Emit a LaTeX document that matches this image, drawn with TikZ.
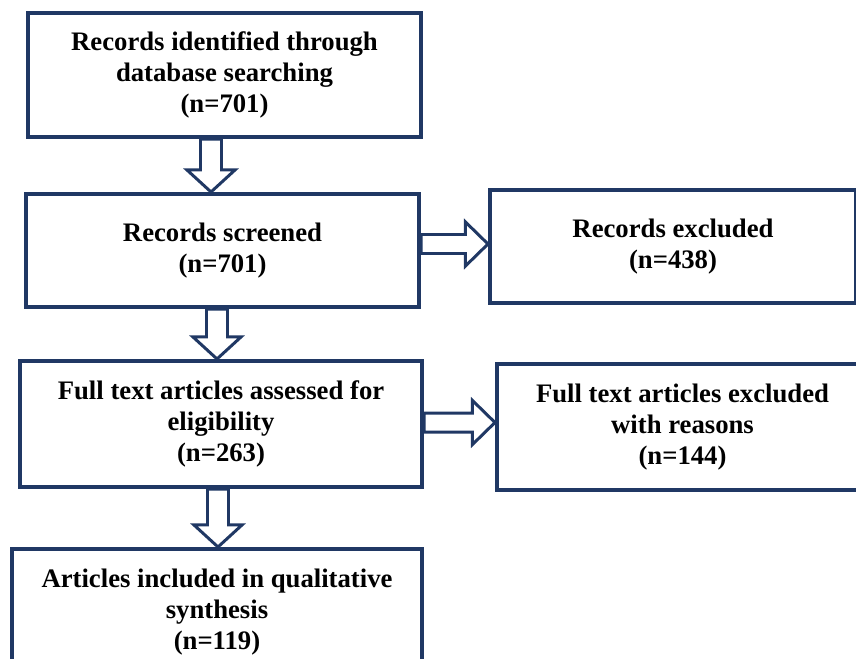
\documentclass[tikz,border=0pt]{standalone}
\usepackage{fontspec}
\setmainfont{Liberation Serif}
\usepackage{tikz}
\usetikzlibrary{positioning}
\usetikzlibrary{calc}
\definecolor{navy}{HTML}{203864}
\colorlet{boxborder}{navy}
\colorlet{boxfill}{white}
\newcommand{\flowfont}{\fontsize{15.2}{17.5}\selectfont\bfseries}
\tikzstyle{flowbox}=[black, align=center, solid, draw=boxborder, line width=2.3pt, fill=boxfill, inner sep=0pt, font=\flowfont]
\tikzstyle{downblock}=[draw=boxborder, line width=1.7pt, fill=boxfill, line join=miter,
    to path={let \p1=(\tikztostart), \p2=(\tikztotarget) in
        (\x1-0.21cm,\y1) -- (\x1-0.21cm,\y2+0.44cm) -- (\x1-0.48cm,\y2+0.44cm) -- (\x1,\y2) --
        (\x1+0.48cm,\y2+0.44cm) -- (\x1+0.21cm,\y2+0.44cm) -- (\x1+0.21cm,\y1) -- cycle}]
\tikzstyle{rightblock}=[draw=boxborder, line width=1.7pt, fill=boxfill, line join=miter,
    to path={let \p1=(\tikztostart), \p2=(\tikztotarget) in
        (\x1,\y1-0.19cm) -- (\x2-0.45cm,\y1-0.19cm) -- (\x2-0.45cm,\y1-0.44cm) -- (\x2,\y1) --
        (\x2-0.45cm,\y1+0.44cm) -- (\x2-0.45cm,\y1+0.19cm) -- (\x1,\y1+0.19cm) -- cycle}]

\begin{document}
\begin{tikzpicture}
    \path[use as bounding box, clip] (0, 0) rectangle (17.12, -13.16);

    \node[flowbox, minimum width=78.6mm, minimum height=24.8mm] at (4.49, -1.50) (identified) {Records identified through\\database searching\\(n=701)};

    \node[flowbox, minimum width=78.6mm, minimum height=22.6mm] at ($(identified) + (-0.04, -3.51)$) (screened) {Records screened\\(n=701)};

    \node[flowbox, minimum width=80.4mm, minimum height=25.2mm] at ($(screened) + (-0.03, -3.47)$) (assessed) {Full text articles assessed for\\eligibility\\(n=263)};

    \node[flowbox, minimum width=82.0mm, minimum height=25.2mm] at ($(assessed) + (-0.08, -3.76)$) (included) {Articles included in qualitative\\synthesis\\(n=119)};

    \node[flowbox, minimum width=73.2mm, minimum height=22.6mm] at ($(screened) + (9.01, 0.08)$) (excluded) {Records excluded\\(n=438)};

    \node[flowbox, minimum width=74.2mm, minimum height=25.2mm] at ($(assessed) + (9.23, -0.06)$) (fulltextExcluded) {Full text articles excluded\\with reasons\\(n=144)};

    % Arrows
    \draw[downblock] ($(identified.south) + (-0.27, 0)$) to (screened.north);
    \draw[downblock] ($(screened.south) + (-0.11, 0)$) to (assessed.north);
    \draw[downblock] ($(assessed.south) + (-0.06, 0)$) to (included.north);

    \draw[rightblock] ($(screened.east) + (0, 0.13)$) to (excluded.west);
    \draw[rightblock] ($(assessed.east) + (0, 0.03)$) to (fulltextExcluded.west);

\end{tikzpicture}
\end{document}
